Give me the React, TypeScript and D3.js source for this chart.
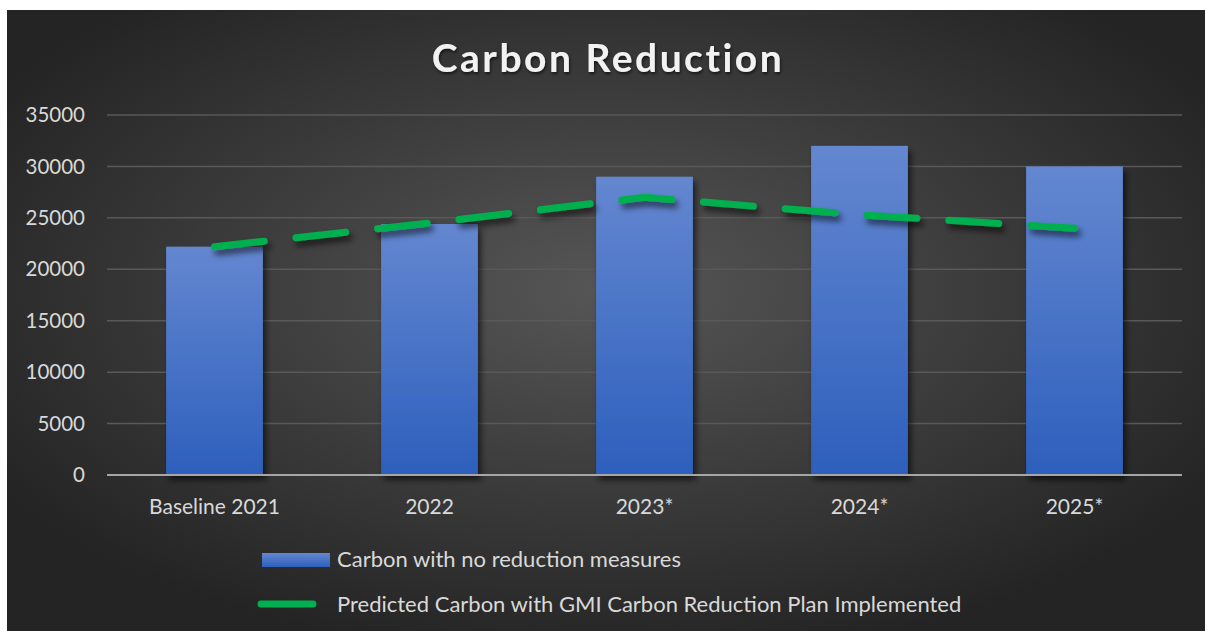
import React from 'react';
import * as d3 from 'd3';

const categories = ['Baseline 2021', '2022', '2023*', '2024*', '2025*'];
const noReduction = [22200, 24400, 29000, 32000, 30000];
const predicted = [22200, 24500, 27000, 25300, 24000];
const yTicks = [0, 5000, 10000, 15000, 20000, 25000, 30000, 35000];

const W = 1205;
const H = 631;
const margin = { top: 115, right: 23, bottom: 156, left: 107 };
const font = 'Lato, "Open Sans", sans-serif';

const App = () => {
  const innerW = W - margin.left - margin.right;
  const innerH = H - margin.top - margin.bottom;

  const x = d3.scaleBand().domain(categories).range([0, innerW]).paddingInner(0.55).paddingOuter(0.275);
  const y = d3.scaleLinear().domain([0, 35000]).range([innerH, 0]);

  const line = d3
    .line<number>()
    .x((d, i) => (x(categories[i]) as number) + x.bandwidth() / 2)
    .y(d => y(d));

  return (
    <svg width={W} height={H} style={{ position: 'absolute', left: 0, top: 0 }}>
      <defs>
        <radialGradient id="bg" cx="50%" cy="45%" r="60%">
          <stop offset="0%" stopColor="#565656" />
          <stop offset="100%" stopColor="#242424" />
        </radialGradient>
        <linearGradient id="bar" x1="0" y1="0" x2="0" y2="1">
          <stop offset="0%" stopColor="#6487d0" />
          <stop offset="100%" stopColor="#2d5fbc" />
        </linearGradient>
        <filter id="shadow" x="-20%" y="-20%" width="140%" height="160%">
          <feDropShadow dx="3" dy="5" stdDeviation="3" floodColor="#000" floodOpacity="0.6" />
        </filter>
        <filter id="tshadow">
          <feDropShadow dx="1" dy="2" stdDeviation="1.5" floodColor="#000" floodOpacity="0.6" />
        </filter>
      </defs>
      <rect x={0} y={0} width={W} height={H} fill="#fff" />
      <rect x={7} y={10} width={W - 7} height={H - 10} fill="url(#bg)" />

      <text
        x={608}
        y={72}
        textAnchor="middle"
        fill="#f2f2f2"
        fontFamily={font}
        fontWeight="bold"
        fontSize={39}
        letterSpacing={2.5}
        filter="url(#tshadow)"
      >
        Carbon Reduction
      </text>

      <g transform={`translate(${margin.left},${margin.top})`}>
        {yTicks.map(t => (
          <g key={t}>
            {t > 0 && <line x1={0} x2={innerW} y1={y(t)} y2={y(t)} stroke="#595959" strokeWidth={1.5} />}
            <text
              x={-22}
              y={y(t)}
              dy="0.35em"
              textAnchor="end"
              fill="#d9d9d9"
              fontFamily={font}
              fontSize={20.5}
            >
              {t}
            </text>
          </g>
        ))}

        {noReduction.map((v, i) => (
          <rect
            key={categories[i]}
            x={x(categories[i])}
            y={y(v)}
            width={x.bandwidth()}
            height={innerH - y(v)}
            fill="url(#bar)"
            filter="url(#shadow)"
          />
        ))}

        <line x1={0} x2={innerW} y1={innerH} y2={innerH} stroke="#a6a6a6" strokeWidth={2} />

        {categories.map(c => (
          <text
            key={c}
            x={(x(c) as number) + x.bandwidth() / 2}
            y={innerH + 39}
            textAnchor="middle"
            fill="#d9d9d9"
            fontFamily={font}
            fontSize={21}
          >
            {c}
          </text>
        ))}

        <path
          d={line(predicted) || ''}
          fill="none"
          stroke="#00b050"
          strokeWidth={7}
          strokeLinecap="round"
          strokeLinejoin="round"
          strokeDasharray="50 32"
          filter="url(#shadow)"
        />
      </g>

      <rect x={262} y={553} width={68} height={14} fill="url(#bar)" />
      <text x={337} y={567} fill="#d9d9d9" fontFamily={font} fontSize={22}>
        Carbon with no reduction measures
      </text>
      <line x1={261} x2={313} y1={604} y2={604} stroke="#00b050" strokeWidth={7} strokeLinecap="round" />
      <text x={337} y={612} fill="#d9d9d9" fontFamily={font} fontSize={22}>
        Predicted Carbon with GMI Carbon Reduction Plan Implemented
      </text>
    </svg>
  );
};

export default App;
